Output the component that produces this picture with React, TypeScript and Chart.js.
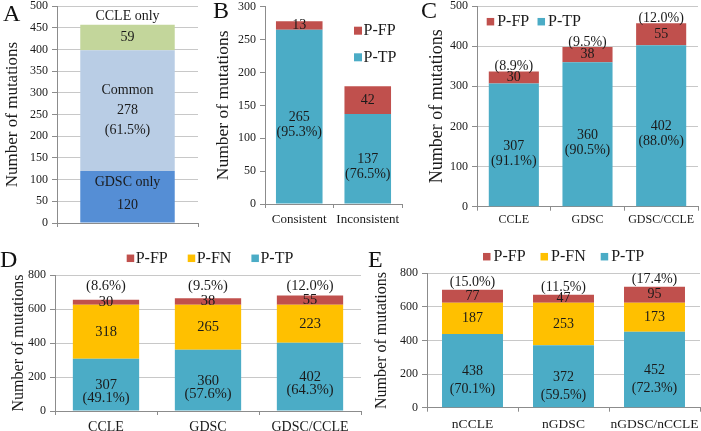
import React, { useEffect, useRef } from 'react';
import { Chart, registerables } from 'chart.js';
Chart.register(...registerables);

// ---------- Panel A ----------
const catsA = [''];
const aGdscOnly = [120];
const aCommon = [278];
const aCcleOnly = [59];
const aCommonPct = ['61.5'];

// ---------- Panel B ----------
const catsB = ['Consistent', 'Inconsistent'];
const bTP = [265, 137];
const bFP = [13, 42];
const bTPPct = ['95.3', '76.5'];

// ---------- Panel C ----------
const catsC = ['CCLE', 'GDSC', 'GDSC/CCLE'];
const cTP = [307, 360, 402];
const cFP = [30, 38, 55];
const cTPPct = ['91.1', '90.5', '88.0'];
const cFPPct = ['8.9', '9.5', '12.0'];

// ---------- Panel D ----------
const catsD = ['CCLE', 'GDSC', 'GDSC/CCLE'];
const dTP = [307, 360, 402];
const dFN = [318, 265, 223];
const dFP = [30, 38, 55];
const dTPPct = ['49.1', '57.6', '64.3'];
const dFPPct = ['8.6', '9.5', '12.0'];

// ---------- Panel E ----------
const catsE = ['nCCLE', 'nGDSC', 'nGDSC/nCCLE'];
const eTP = [438, 372, 452];
const eFN = [187, 253, 173];
const eFP = [77, 47, 95];
const eTPPct = ['70.1', '59.5', '72.3'];
const eFPPct = ['15.0', '11.5', '17.4'];

const W = 701;
const H = 431;
const FONT = '"Liberation Serif", "Times New Roman", serif';
const TEXT = '#1a1a1a';
const AXIS = '#8c8c8c';
const GRID = '#c8c8c8';
const RED = '#C0504D';
const TEAL = '#4BACC6';
const YELLOW = '#FFC000';
const YTITLE = 'Number of mutations';

const tpLines = (vals: number[], pcts: string[]) => (i: number) => [String(vals[i]), `(${pcts[i]}%)`];
const oneLine = (vals: number[]) => (i: number) => [String(vals[i])];

const panels: any[] = [
  {
    letter: 'A', lx: 3, ly: 1,
    cats: catsA, area: { l: 57, t: 6, r: 198, b: 223 }, titleX: 13, titleSize: 17,
    yMax: 500, yStep: 50, catPct: 0.67, grid: true, xTickSize: 12, xPad: 4, labelSize: 14,
    series: [
      { label: 'GDSC only', data: aGdscOnly, color: '#558ED5', lines: (i: number) => ['GDSC only', String(aGdscOnly[i])], gap: 23, dy: -3 },
      { label: 'Common', data: aCommon, color: '#B9CDE5', lines: (i: number) => ['Common', String(aCommon[i]), `(${aCommonPct[i]}%)`], gap: 20 },
      { label: 'CCLE only', data: aCcleOnly, color: '#C3D69B', lines: oneLine(aCcleOnly) },
    ],
    top: { text: () => 'CCLE only', offsetPx: -8 },
  },
  {
    letter: 'B', lx: 213, ly: -2,
    cats: catsB, area: { l: 265, t: 6.7, r: 402, b: 204 }, titleX: 223, titleSize: 17.5,
    yMax: 300, yStep: 50, catPct: 0.68, grid: false, xTickSize: 13, xPad: 4, labelSize: 14,
    series: [
      { label: 'P-TP', data: bTP, color: TEAL, lines: tpLines(bTP, bTPPct), gap: 15, anchorFirst: true, dy: 1 },
      { label: 'P-FP', data: bFP, color: RED, lines: oneLine(bFP) },
    ],
    legend: { items: [1, 0], x: 354, y: 30.7, vertical: true, step: 26.6, box: 8, gap: 1.5, size: 16 },
  },
  {
    letter: 'C', lx: 421, ly: -2,
    cats: catsC, area: { l: 477, t: 6, r: 698, b: 206.7 }, titleX: 437, titleSize: 18,
    yMax: 500, yStep: 100, catPct: 0.68, grid: true, xTickSize: 12, xPad: 2, labelSize: 14,
    series: [
      { label: 'P-TP', data: cTP, color: TEAL, lines: tpLines(cTP, cTPPct), gap: 15, anchorFirst: true, dy: 1 },
      { label: 'P-FP', data: cFP, color: RED, lines: oneLine(cFP) },
    ],
    top: { text: (i: number) => `(${cFPPct[i]}%)`, offsetPx: -5 },
    legend: { items: [1, 0], x: 486.7, y: 21.7, step: 8.3, box: 7.5, gap: 3, size: 16 },
  },
  {
    letter: 'D', lx: 0, ly: 246.5,
    cats: catsD, area: { l: 55, t: 275, r: 361, b: 411 }, titleX: 19, titleSize: 16,
    yMax: 800, yStep: 200, catPct: 0.65, grid: true, xTickSize: 14, xPad: 4, labelSize: 14.5,
    series: [
      { label: 'P-TP', data: dTP, color: TEAL, lines: tpLines(dTP, dTPPct), gap: 13, anchorFirst: true, dy: 1 },
      { label: 'P-FN', data: dFN, color: YELLOW, lines: oneLine(dFN) },
      { label: 'P-FP', data: dFP, color: RED, lines: oneLine(dFP) },
    ],
    top: { text: (i: number) => `(${dFPPct[i]}%)`, atValue: 735 },
    legend: { items: [2, 1, 0], x: 126.7, y: 258.3, step: 20, box: 7.5, gap: 1.5, size: 16 },
  },
  {
    letter: 'E', lx: 368, ly: 246.5,
    cats: catsE, area: { l: 427, t: 273.3, r: 700, b: 407.7 }, titleX: 382, titleSize: 16,
    yMax: 800, yStep: 200, catPct: 0.67, grid: true, xTickSize: 13.5, xPad: 5, labelSize: 14,
    series: [
      { label: 'P-TP', data: eTP, color: TEAL, lines: tpLines(eTP, eTPPct), gap: 18, anchorFirst: true, dy: 1 },
      { label: 'P-FN', data: eFN, color: YELLOW, lines: oneLine(eFN) },
      { label: 'P-FP', data: eFP, color: RED, lines: oneLine(eFP) },
    ],
    top: { text: (i: number) => `(${eFPPct[i]}%)`, offsetPx: -7 },
    legend: { items: [2, 1, 0], x: 483, y: 256.7, step: 15, box: 7.5, gap: 3, size: 16 },
  },
];

function makeLabelPlugin(p: any) {
  return {
    id: 'segLabels' + p.letter,
    afterDatasetsDraw(chart: any) {
      const ctx = chart.ctx;
      const yScale = chart.scales.y;
      ctx.save();
      ctx.fillStyle = TEXT;
      ctx.textAlign = 'center';
      ctx.textBaseline = 'middle';
      ctx.font = `${p.labelSize}px ${FONT}`;
      chart.data.datasets.forEach((ds: any, di: number) => {
        const s = p.series[di];
        if (!s.lines) return;
        const meta = chart.getDatasetMeta(di);
        meta.data.forEach((bar: any, i: number) => {
          const { x, y, base } = bar.getProps(['x', 'y', 'base'], true);
          const cy = (y + base) / 2 + (s.dy || 0);
          const lines = s.lines(i);
          const gap = s.gap || 15;
          const start = s.anchorFirst ? cy : cy - ((lines.length - 1) * gap) / 2;
          lines.forEach((t: string, k: number) => ctx.fillText(t, x, start + k * gap));
        });
      });
      if (p.top) {
        const meta0 = chart.getDatasetMeta(0);
        meta0.data.forEach((bar: any, i: number) => {
          const total = chart.data.datasets.reduce((acc: number, ds: any) => acc + ds.data[i], 0);
          const ty = p.top.atValue !== undefined
            ? yScale.getPixelForValue(p.top.atValue)
            : yScale.getPixelForValue(total) + p.top.offsetPx;
          ctx.fillText(p.top.text(i), bar.x, ty);
        });
      }
      if (p.legend) {
        const L = p.legend;
        ctx.font = `${L.size}px ${FONT}`;
        ctx.textAlign = 'left';
        let lx = L.x;
        let ly = L.y;
        L.items.forEach((di: number) => {
          const ds = chart.data.datasets[di];
          ctx.fillStyle = ds.backgroundColor;
          ctx.fillRect(lx, ly - L.box / 2, L.box, L.box);
          ctx.fillStyle = TEXT;
          ctx.fillText(ds.label, lx + L.box + L.gap, ly);
          if (L.vertical) ly += L.step;
          else lx += L.box + L.gap + ctx.measureText(ds.label).width + L.step;
        });
      }
      ctx.restore();
    },
  };
}

function makeConfig(p: any): any {
  const padLeft = p.titleX - p.titleSize / 2;
  return {
    type: 'bar',
    data: {
      labels: p.cats,
      datasets: p.series.map((s: any) => ({
        label: s.label,
        data: s.data,
        backgroundColor: s.color,
        borderWidth: 0,
        categoryPercentage: p.catPct,
        barPercentage: 1,
      })),
    },
    options: {
      responsive: false,
      animation: false,
      events: [],
      layout: { padding: { left: padLeft, top: p.area.t, right: W - p.area.r, bottom: 0 } },
      plugins: { legend: { display: false }, tooltip: { enabled: false } },
      scales: {
        x: {
          stacked: true,
          grid: { display: true, drawOnChartArea: false, tickLength: 4, color: AXIS, offset: true },
          border: { display: true, color: AXIS },
          ticks: { font: { family: FONT, size: p.xTickSize }, padding: p.xPad, color: TEXT, maxRotation: 0, autoSkip: false },
          afterFit: (s: any) => { s.height = H - p.area.b; s.paddingLeft = 0; s.paddingRight = 0; },
        },
        y: {
          stacked: true,
          min: 0,
          max: p.yMax,
          ticks: { stepSize: p.yStep, font: { family: FONT, size: 12 }, padding: 4, color: TEXT },
          grid: { color: GRID, drawOnChartArea: p.grid, tickLength: 5, tickColor: AXIS },
          border: { display: true, color: AXIS },
          title: { display: true, text: YTITLE, color: TEXT, padding: 0, font: { family: FONT, size: p.titleSize, lineHeight: 1 } },
          afterFit: (s: any) => { s.width = p.area.l - padLeft; s.paddingTop = 0; s.paddingBottom = 0; },
        },
      },
    },
    plugins: [makeLabelPlugin(p)],
  };
}

function Panel({ p }: { p: any }) {
  const ref = useRef<HTMLCanvasElement>(null);
  useEffect(() => {
    const chart = new Chart(ref.current as HTMLCanvasElement, makeConfig(p));
    return () => chart.destroy();
  }, [p]);
  return (
    <canvas
      ref={ref}
      width={W}
      height={H}
      style={{ position: 'absolute', left: 0, top: 0, width: W, height: H, display: 'block' }}
    />
  );
}

export default function App() {
  return (
    <div style={{ position: 'fixed', left: 0, top: 0, width: W, height: H, background: '#fff', overflow: 'hidden' }}>
      {panels.map((p) => (
        <Panel key={p.letter} p={p} />
      ))}
      {panels.map((p) => (
        <div
          key={'l' + p.letter}
          style={{ position: 'absolute', left: p.lx, top: p.ly, fontFamily: FONT, fontSize: 24, lineHeight: 1, color: '#111' }}
        >
          {p.letter}
        </div>
      ))}
    </div>
  );
}
